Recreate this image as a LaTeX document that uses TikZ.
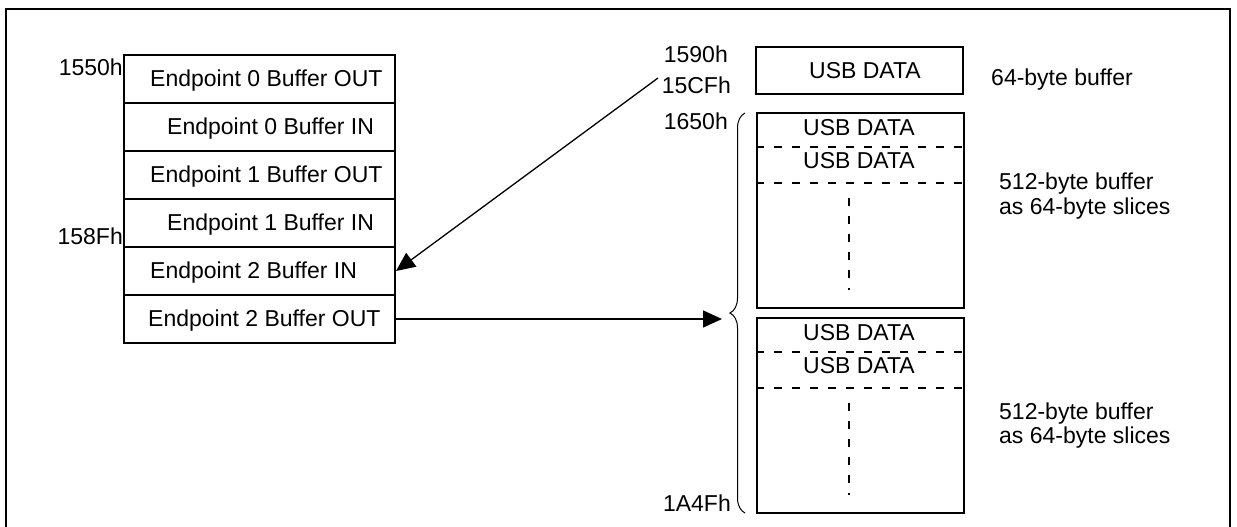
\documentclass[tikz,border=0pt]{standalone}
\usepackage{fontspec}
\setmainfont{Liberation Sans}
\usetikzlibrary{arrows.meta,decorations.pathreplacing}
\begin{document}
\begin{tikzpicture}[x=1pt,y=-1pt,
  font=\fontsize{23}{26}\selectfont,
  rowbox/.style={draw, line width=2pt, minimum width=271pt, minimum height=48pt, inner sep=0pt},
  membox/.style={draw, line width=2pt, inner sep=0pt, minimum width=207pt},
  txt/.style={inner sep=0pt, anchor=base west},
  addr/.style={inner sep=0pt, anchor=base east},
  ctxt/.style={inner sep=0pt, anchor=base},
  dashline/.style={line width=1.5pt, dash pattern=on 8pt off 10pt},
  conn/.style={line width=1.3pt, -{Triangle[length=19pt,width=17pt]}},
  bracestyle/.style={line width=1pt, decorate, decoration={brace, amplitude=15pt, aspect=0.5}}]
\useasboundingbox (0,0) rectangle (1237,527);
% outer frame (bottom edge outside the picture)
\draw[line width=2pt] (6,540) -- (6,9) -- (1229.5,9) -- (1229.5,540);

% left table
\node[rowbox] (r0) at (259.5,79) {};
\node[rowbox] (r1) at (259.5,127) {};
\node[rowbox] (r2) at (259.5,175) {};
\node[rowbox] (r3) at (259.5,223) {};
\node[rowbox] (r4) at (259.5,271) {};
\node[rowbox] (r5) at (259.5,319) {};
\node[txt] (t0) at (150,87) {Endpoint 0 Buffer OUT};
\node[txt] (t1) at (167,134) {Endpoint 0 Buffer IN};
\node[txt] (t2) at (150,182) {Endpoint 1 Buffer OUT};
\node[txt] (t3) at (167,230) {Endpoint 1 Buffer IN};
\node[txt] (t4) at (150,278) {Endpoint 2 Buffer IN};
\node[txt] (t5) at (148,326) {Endpoint 2 Buffer OUT};
\node[addr] (a1550) at (123,76) {1550h};
\node[addr] (a158F) at (123,244) {158Fh};

% right side addresses
\node[addr] (a1590) at (728,63) {1590h};
\node[addr] (a15CF) at (731,93) {15CFh};
\node[addr] (a1650) at (728,129) {1650h};
\node[addr] (a1A4F) at (731,511) {1A4Fh};

% 64-byte buffer
\node[membox, minimum height=47pt] (b0) at (859.5,70.5) {};
\node[ctxt] (u0) at (865,78) {USB DATA};
\node[txt] (l0) at (991,85) {64-byte buffer};

% 512-byte buffer 1
\node[membox, minimum height=195pt] (b1) at (860.5,210.5) {};
\node[ctxt] (u1a) at (859,135) {USB DATA};
\node[ctxt] (u1b) at (859,168) {USB DATA};
\draw[dashline] (b1.west |- 0,147) -- (b1.east |- 0,147);
\draw[dashline] (b1.west |- 0,183) -- (b1.east |- 0,183);
\draw[dashline] (849,198) -- (849,290);
\node[txt] (l1a) at (999,189) {512-byte buffer};
\node[txt] (l1b) at (999,214) {as 64-byte slices};

% 512-byte buffer 2
\node[membox, minimum height=195pt] (b2) at (860.5,415.5) {};
\node[ctxt] (u2a) at (859,340) {USB DATA};
\node[ctxt] (u2b) at (859,373) {USB DATA};
\draw[dashline] (b2.west |- 0,352) -- (b2.east |- 0,352);
\draw[dashline] (b2.west |- 0,388) -- (b2.east |- 0,388);
\draw[dashline] (849,403) -- (849,495);
\node[txt] (l2a) at (999,419) {512-byte buffer};
\node[txt] (l2b) at (999,443) {as 64-byte slices};

% brace
\draw[bracestyle] (745,513) -- (745,113);

% connectors
\coordinate (c1) at (658,78);
\coordinate (btip) at (722,319);
\draw[conn] (c1) -- (r4.east);
\draw[conn] (r5.east) -- (btip);
\end{tikzpicture}
\end{document}
